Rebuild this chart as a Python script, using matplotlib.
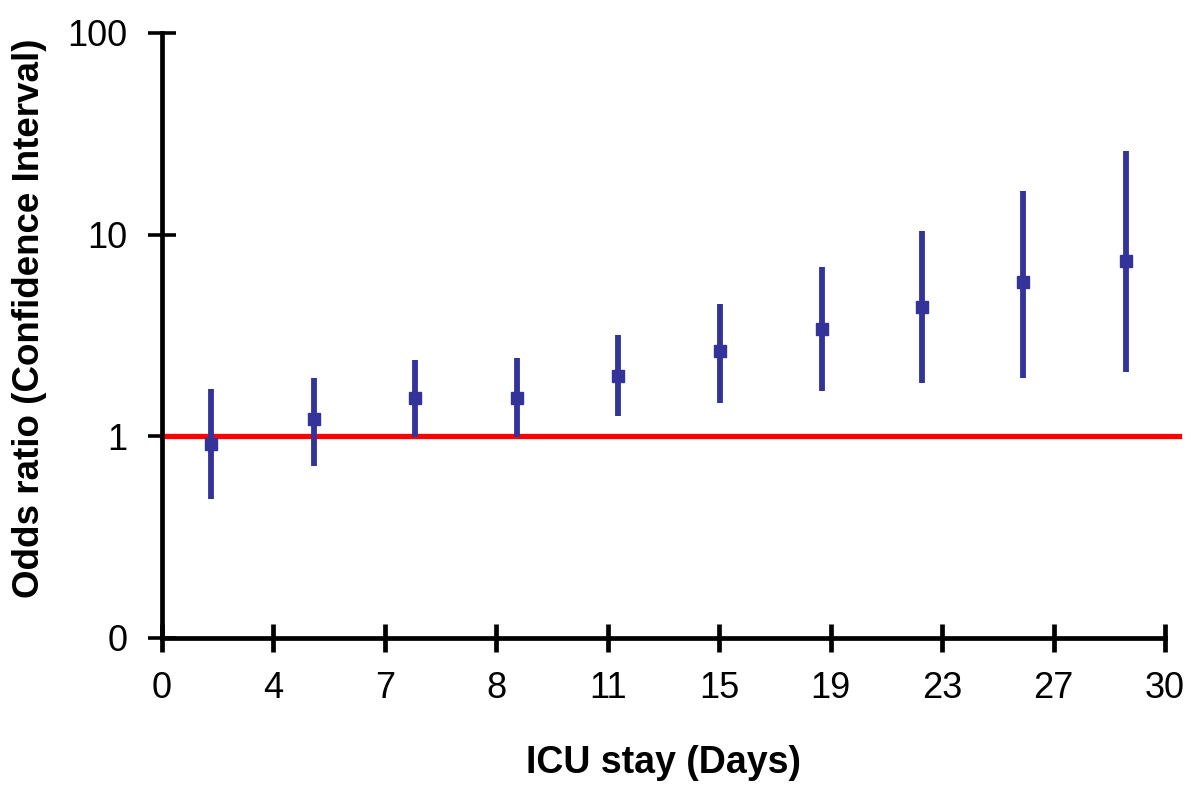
import numpy as np
import matplotlib
matplotlib.use("Agg")
import matplotlib.pyplot as plt

plt.rcParams['font.family'] = ['Liberation Sans', 'DejaVu Sans']

# tick labels on the x axis (evenly spaced categories)
x_labels = ['0', '4', '7', '8', '11', '15', '19', '23', '27', '30']
# point positions in tick-index units
x_pos = [0.44, 1.36, 2.27, 3.19, 4.09, 5.01, 5.92, 6.82, 7.73, 8.65]
odds = [0.92, 1.22, 1.55, 1.55, 1.99, 2.65, 3.41, 4.38, 5.80, 7.42]
ci_low = [0.49, 0.71, 0.99, 0.99, 1.26, 1.46, 1.67, 1.84, 1.94, 2.08]
ci_high = [1.71, 1.94, 2.39, 2.44, 3.18, 4.54, 6.93, 10.4, 16.4, 25.9]

y_ticks = [0.1, 1, 10, 100]
y_labels = ['0', '1', '10', '100']

blue = '#333399'
red = '#ff0000'

fig = plt.figure(figsize=(12, 7.85), dpi=100)
ax = fig.add_axes([0.135, 0.1873, 0.8358, 0.7707])

odds = np.array(odds)
err = np.array([odds - np.array(ci_low), np.array(ci_high) - odds])

# reference line at OR = 1
ax.plot([0, 9.13], [1, 1], color=red, lw=3.8, clip_on=False, zorder=2)

ax.errorbar(x_pos, odds, yerr=err, fmt='s', color=blue, ecolor=blue,
            elinewidth=4.2, markersize=9, capsize=0, zorder=3)

ax.set_yscale('log')
ax.set_ylim(0.1, 100)
ax.set_xlim(0, 9)
ax.set_yticks(y_ticks)
ax.set_yticklabels(y_labels)
ax.yaxis.set_minor_locator(matplotlib.ticker.NullLocator())
ax.set_xticks(range(len(x_labels)))
ax.set_xticklabels(x_labels)

for s in ['top', 'right']:
    ax.spines[s].set_visible(False)
for s in ['left', 'bottom']:
    ax.spines[s].set_linewidth(3.4)

ax.tick_params(axis='y', direction='inout', length=20, width=2.6,
               labelsize=26, pad=15)
ax.tick_params(axis='x', direction='inout', length=20, width=3.4,
               labelsize=26, pad=14)

ax.set_xlabel('ICU stay (Days)', fontsize=27, fontweight='bold')
ax.set_ylabel('Odds ratio (Confidence Interval)', fontsize=26.5, fontweight='bold')
ax.xaxis.set_label_coords(0.5, -0.177)
ax.yaxis.set_label_coords(-0.1147, 0.529)

fig.savefig('out.png', dpi=100)
